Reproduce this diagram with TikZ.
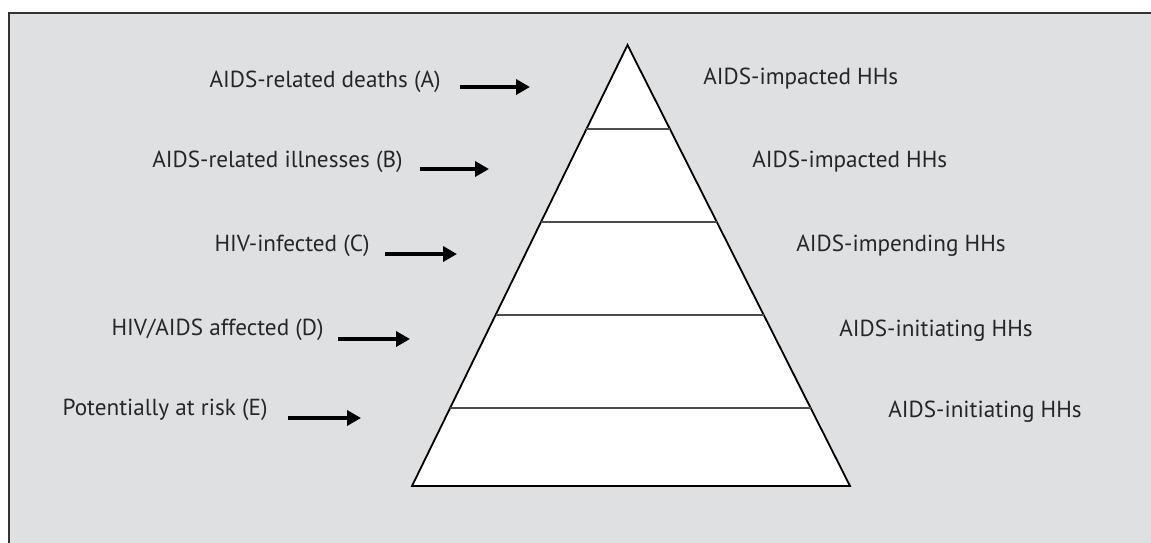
\documentclass[tikz,border=0pt]{standalone}
\usepackage{fontspec}
\setmainfont{PT Sans}
\usetikzlibrary{arrows.meta,calc}
\definecolor{panelgray}{HTML}{DFE0E2}
\definecolor{framegray}{HTML}{333333}
\begin{document}
\begin{tikzpicture}[x=0.5pt, y=-0.5pt,
        lbl/.style={inner sep=0pt, font=\fontsize{11.6}{13}\selectfont, text=black!85},
        pointer/.style={line width=2pt, -{Triangle[length=7pt, width=7.5pt]}}]
        \useasboundingbox (0,0) rectangle (1151,542);
        % panel behind the picture
        \fill [panelgray] (9,13) rectangle (1170,560);
        \draw [framegray, line width=1.2pt] (1170,13) -- (9,13) -- (9,560);
        % pyramid
        \coordinate (apex) at (627.5,45);
        \coordinate (bl) at (412,486);
        \coordinate (br) at (850,486);
        \draw [fill=white, line width=0.9pt, line join=miter] (apex) -- (bl) -- (br) -- cycle;
        \foreach \t [count=\i] in {0.1905,0.4014,0.6122,0.8231} {
            \draw [line width=0.6pt, black!70] ($(apex)!\t!(bl)$) coordinate (l\i)
                -- ($(apex)!\t!(br)$) coordinate (r\i);
        }
        % groups of people, left
        \node [lbl, anchor=east] (ga) at (441,82) {AIDS-related deaths (A)};
        \node [lbl, anchor=east] (gb) at (403,162) {AIDS-related illnesses (B)};
        \node [lbl, anchor=east] (gc) at (370,246) {HIV-infected (C)};
        \node [lbl, anchor=east] (gd) at (324,330) {HIV/AIDS affected (D)};
        \node [lbl, anchor=east] (ge) at (268,410) {Potentially at risk (E)};
        \coordinate (pa) at (530,87);
        \coordinate (pb) at (489,169);
        \coordinate (pc) at (457,254);
        \coordinate (pd) at (410,339);
        \coordinate (pe) at (361,418);
        \draw [pointer] ([xshift=9.5pt, yshift=-2.5pt]ga.east) -- (pa);
        \draw [pointer] ([xshift=8.5pt, yshift=-3.5pt]gb.east) -- (pb);
        \draw [pointer] ([xshift=7.5pt, yshift=-4pt]gc.east) -- (pc);
        \draw [pointer] ([xshift=7pt, yshift=-4.5pt]gd.east) -- (pd);
        \draw [pointer] ([xshift=10pt, yshift=-4pt]ge.east) -- (pe);
        % households, right
        \node [lbl, anchor=west] (ha) at (703,79) {AIDS-impacted HHs};
        \node [lbl, anchor=west] (hb) at (752,162) {AIDS-impacted HHs};
        \node [lbl, anchor=west] (hc) at (796,246) {AIDS-impending HHs};
        \node [lbl, anchor=west] (hd) at (839,331) {AIDS-initiating HHs};
        \node [lbl, anchor=west] (he) at (888,412) {AIDS-initiating HHs};
    \end{tikzpicture}
\end{document}
